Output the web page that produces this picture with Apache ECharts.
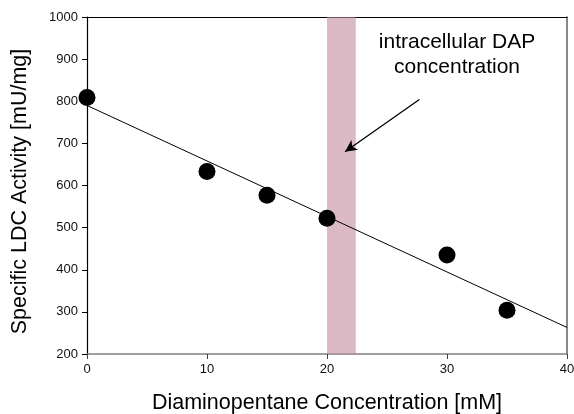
<!DOCTYPE html>
<html><head><meta charset="utf-8">
<script src="https://cdn.jsdelivr.net/npm/echarts@6/dist/echarts.min.js"></script>
<style>html,body{margin:0;padding:0;background:#fff}#c{width:574px;height:414px}</style>
</head><body><div id="c"></div>
<script>
// Data
var concX = [0, 10, 15, 20, 30, 35];
var activityY = [809, 633, 577, 522, 435, 304];
var fitX = [0, 40];
var fitY = [790, 263];
var bandRange = [20, 22.4];
var xTicks = [0, 10, 20, 30, 40];
var yTicks = [200, 300, 400, 500, 600, 700, 800, 900, 1000];
var arrowFrom = [27.7, 804];
var arrowTo = [21.5, 680];
var noteLines = ['intracellular DAP', 'concentration'];

var font = '"Liberation Sans", Arial, sans-serif';
var chart = echarts.init(document.getElementById('c'));
chart.setOption({
  animation: false,
  textStyle: { fontFamily: font },
  grid: { left: 87, right: 7, top: 17, bottom: 60, containLabel: false, outerBoundsMode: 'none' },
  xAxis: [{
    type: 'value', min: xTicks[0], max: xTicks[xTicks.length - 1], interval: 10,
    position: 'bottom',
    name: 'Diaminopentane Concentration [mM]', nameLocation: 'middle', nameGap: 38,
    nameTextStyle: { fontSize: 21.5, color: '#000', fontFamily: font },
    axisLine: { show: true, lineStyle: { color: '#808080', width: 1.5 } },
    axisTick: { show: true, inside: false, length: 5, lineStyle: { color: '#404040' } },
    axisLabel: { fontSize: 13, color: '#111', margin: 9, fontFamily: font,
      formatter: function (v) { return String(v); } },
    splitLine: { show: false }
  }, {
    type: 'value', min: 0, max: 40, position: 'top',
    axisLine: { show: true, onZero: false, lineStyle: { color: '#000', width: 1.2 } },
    axisTick: { show: false }, axisLabel: { show: false }, splitLine: { show: false }
  }],
  yAxis: [{
    type: 'value', min: yTicks[0], max: yTicks[yTicks.length - 1], interval: 100,
    name: 'Specific LDC Activity [mU/mg]', nameLocation: 'middle', nameGap: 56,
    nameTextStyle: { fontSize: 21.5, color: '#000', fontFamily: font, padding: [0, 12, 0, 0] },
    axisLine: { show: true, onZero: false, lineStyle: { color: '#000', width: 1.2 } },
    axisTick: { show: true, inside: false, length: 5, lineStyle: { color: '#000' } },
    axisLabel: { fontSize: 13, color: '#111', margin: 9, fontFamily: font,
      formatter: function (v) { return String(v); } },
    splitLine: { show: false }
  }, {
    type: 'value', min: 200, max: 1000, position: 'right',
    axisLine: { show: true, onZero: false, lineStyle: { color: '#606060', width: 1.5 } },
    axisTick: { show: false }, axisLabel: { show: false }, splitLine: { show: false }
  }],
  series: [{
    type: 'line', z: 2,
    data: fitX.map(function (x, i) { return [x, fitY[i]]; }),
    symbol: 'none', lineStyle: { color: '#000', width: 1 }, silent: true
  }, {
    type: 'scatter', z: 3,
    data: concX.map(function (x, i) { return [x, activityY[i]]; }),
    symbol: 'circle', symbolSize: 17, itemStyle: { color: '#000', opacity: 1 }
  }, {
    type: 'line', z: 5, data: [], silent: true,
    markArea: {
      silent: true,
      itemStyle: { color: 'rgba(196,140,158,0.6)' },
      data: [[{ xAxis: bandRange[0] }, { xAxis: bandRange[1] }]]
    },
    markLine: {
      silent: true, symbol: ['none', 'arrow'], symbolSize: [9, 12],
      lineStyle: { color: '#000', width: 1.3, type: 'solid' },
      label: { show: false },
      data: [[{ coord: arrowFrom }, { coord: arrowTo }]]
    }
  }],
  graphic: [{
    type: 'text', x: 457, y: 30, z: 10,
    style: { text: noteLines.join('\n'), fontSize: 21, fontFamily: font, fill: '#000', align: 'center', verticalAlign: 'top', lineHeight: 25 }
  }]
});
</script></body></html>
